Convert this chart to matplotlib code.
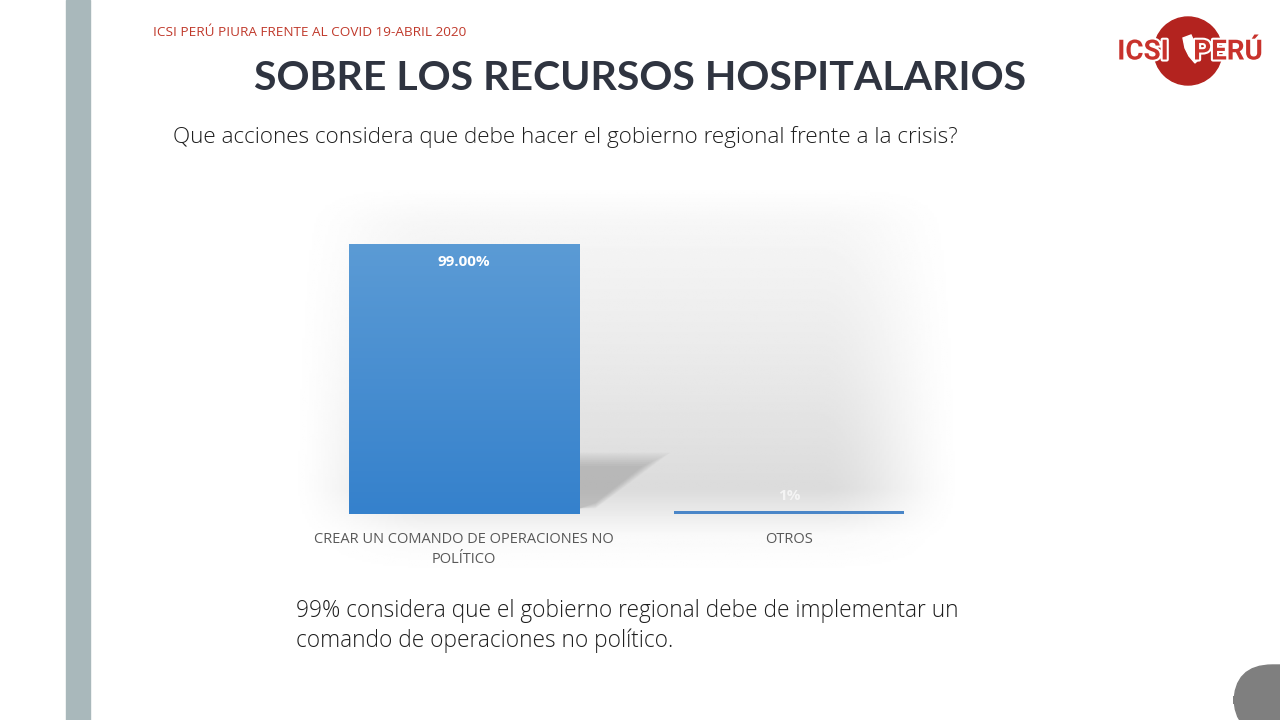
import numpy as np
import matplotlib.pyplot as plt
from matplotlib.patches import Rectangle, Circle, Polygon, FancyBboxPatch
import matplotlib.patheffects as pe

# data
categories = ["CREAR UN COMANDO DE OPERACIONES NO\nPOLÍTICO", "OTROS"]
values = [99.0, 1.0]
value_labels = ["99.00%", "1%"]

W, H = 1280, 720
fig = plt.figure(figsize=(12.8, 7.2), dpi=100)
fig.patch.set_facecolor("white")


def fx(x):
    return x / W


def fy(y):
    return 1 - y / H


# left grey strip
fig.patches.append(Rectangle((fx(66), 0), fx(24), 1, transform=fig.transFigure,
                             color="#a9b8bb", zorder=0))

# header texts
fig.text(fx(153), fy(32), "ICSI PERÚ PIURA FRENTE AL COVID 19-ABRIL 2020",
         fontsize=9.7, color="#c0392b", family="Open Sans", va="center")
fig.text(fx(640), fy(79), "SOBRE LOS RECURSOS HOSPITALARIOS", fontsize=29.5,
         fontweight="bold", color="#2f3440", family="Lato", ha="center", va="center")
fig.text(fx(173), fy(137),
         "Que acciones considera que debe hacer el gobierno regional frente a la crisis?",
         fontsize=16.2, color="#1e1e1e", family="Open Sans", fontweight="light",
         va="center")

# logo
lax = fig.add_axes([fx(1105), fy(90), fx(170), 80 / H])
lax.set_xlim(1105, 1275)
lax.set_ylim(90, 10)
lax.axis("off")
lax.add_patch(Circle((1188, 51), 34, color="#b3231f"))
lax.add_patch(Polygon([(1183, 38), (1191, 35), (1196, 46), (1200, 58), (1195, 63),
                       (1189, 56), (1185, 48)], closed=True, color="white"))
for tx, s in [(1143, "ICSI"), (1228, "PERÚ")]:
    lax.text(tx, 52, s, fontsize=20, fontweight="bold", color="#c8322c",
             family="Roboto", ha="center", va="center",
             path_effects=[pe.withStroke(linewidth=3, foreground="white")])

# chart background gradient
bgax = fig.add_axes([fx(283), fy(575), fx(687), 390 / H], zorder=0)
yy = np.linspace(0, 1, 200)[:, None]
xx = np.linspace(0, 1, 300)[None, :]
vy = np.interp(yy, [0, 0.1, 0.5, 0.78, 0.9, 1], [0, 0.25, 0.65, 1, 0.15, 0])
hx = np.clip(np.minimum(xx, 1 - xx) / 0.22, 0, 1)
hx = hx * hx * (3 - 2 * hx)
bg = 1 - 0.14 * vy * hx
bgax.imshow(bg, cmap="gray", vmin=0, vmax=1, aspect="auto", extent=(0, 1, 0, 1),
            origin="upper", interpolation="bilinear")
bgax.axis("off")

# main axes
ax = fig.add_axes([fx(301.5), fy(514), fx(650), 270 / H], zorder=2)
ax.set_facecolor("none")
ax.set_xlim(-0.5, 1.5)
ax.set_ylim(0, 99)
x = np.arange(len(categories))
bars = ax.bar(x, values, width=0.708, color="#4a86c8", zorder=3)

# gradient on the big bar
b = bars[0]
b.set_facecolor("none")
grad = np.linspace(0, 1, 100)[:, None]
c_top = np.array([0x5b, 0x9b, 0xd5]) / 255
c_bot = np.array([0x35, 0x81, 0xcc]) / 255
img = c_top[None, None, :] * (1 - grad[:, :, None]) + c_bot[None, None, :] * grad[:, :, None]
im = ax.imshow(img, extent=(b.get_x(), b.get_x() + b.get_width(), 0, values[0]),
               aspect="auto", zorder=3, origin="upper")
im.set_clip_path(b)

# soft shadow to the right of big bar
x0 = b.get_x() + b.get_width()
for k in range(8):
    d = k * 0.012
    ax.add_patch(Polygon([(x0, 22.5 - k * 0.7), (x0 + 0.28 - d, 22.5 - k * 0.7),
                          (x0 + 0.05, 2 + k * 0.3), (x0, 2)], closed=True,
                         color="#6a6a6a", alpha=0.045, lw=0, zorder=2))

ax.text(x[0], 92.5, value_labels[0], ha="center", va="center", color="white",
        fontsize=11, fontweight="bold", family="Open Sans", zorder=4)
ax.text(x[1], values[1] + 5.5, value_labels[1], ha="center", va="center",
        color="#f4f4f4", fontsize=11, fontweight="bold", family="Open Sans", zorder=4)

ax.set_xticks(x)
ax.set_xticklabels(categories, fontsize=10.5, color="#595959", family="Open Sans",
                   linespacing=1.45)
ax.tick_params(axis="x", length=0, pad=13)
ax.set_yticks([])
for sp in ax.spines.values():
    sp.set_visible(False)

# bottom note
fig.text(fx(296), fy(626),
         "99% considera que el gobierno regional debe de implementar un\n"
         "comando de operaciones no político.",
         fontsize=16.3, color="#1e1e1e", family="Open Sans", fontweight="light",
         va="center", linespacing=1.3)

# grey corner shape
fig.patches.append(FancyBboxPatch((fx(1234), fy(735)), fx(90), 70 / H,
                                  boxstyle="round,pad=0,rounding_size=0.03",
                                  transform=fig.transFigure, color="#7f7f7f",
                                  zorder=1, mutation_aspect=1.8))

fig.savefig("out.png", dpi=100)
